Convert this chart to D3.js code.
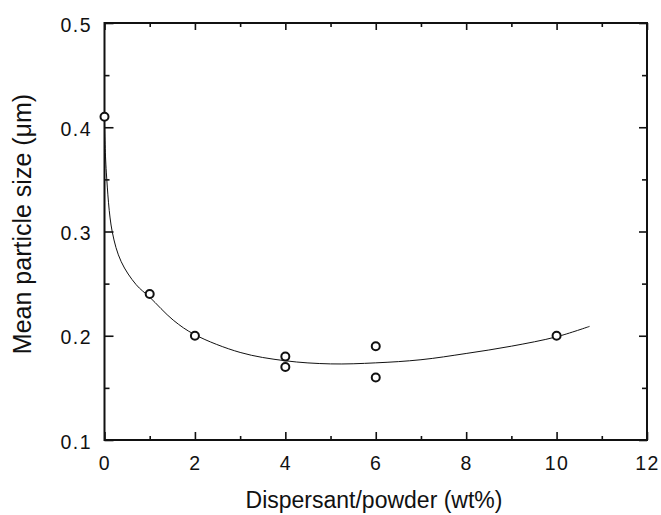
<!DOCTYPE html>
<html>
<head>
<meta charset="utf-8">
<script src="https://cdn.jsdelivr.net/npm/d3@7"></script>
<style>
  body { margin: 0; background: #fff; }
  svg text { font-family: "Liberation Sans", Arial, Helvetica, sans-serif; fill: #111; }
</style>
</head>
<body>
<div id="chart_area"></div>
<script>
// measured points
var sizeX = [0, 1, 2, 4, 4, 6, 6, 10];
var sizeY = [0.41, 0.24, 0.20, 0.18, 0.17, 0.19, 0.16, 0.20];

// fitted curve
var fitX = [0, 0.04, 0.17, 0.37, 0.70, 1.0, 1.52, 2.0, 3.0, 4.0, 5.0, 6.0, 7.0, 8.0, 9.0, 10.0, 10.73];
var fitY = [0.405, 0.357, 0.30, 0.271, 0.249, 0.237, 0.215, 0.201, 0.184, 0.176, 0.173, 0.174, 0.177, 0.183, 0.190, 0.199, 0.209];

var xMajor = [0, 2, 4, 6, 8, 10, 12];
var xMinor = [1, 3, 5, 7, 9, 11];
var yMajor = [0.1, 0.2, 0.3, 0.4, 0.5];
var yMinor = [0.15, 0.25, 0.35, 0.45];

var xTitle = "Dispersant/powder (wt%)";
var yTitle = "Mean particle size (\u03bcm)";

var frame_width = 661, frame_height = 515;
var margin = {top: 23, right: 14, bottom: 75, left: 104.5};
var canvas_width = frame_width - margin.left - margin.right;
var canvas_height = frame_height - margin.top - margin.bottom;

var frame = d3.select("#chart_area").append("svg")
  .attr("width", frame_width)
  .attr("height", frame_height);

var canvas = frame.append("g")
  .attr("transform", "translate(" + margin.left + "," + margin.top + ")");

var xScale = d3.scaleLinear().domain([0, 12]).range([0, canvas_width]);
var yScale = d3.scaleLinear().domain([0.1, 0.5]).range([canvas_height, 0]);

// axes, ticks pointing inward on all four sides
function styleAxis(g, fs) {
  g.select(".domain").remove();
  g.selectAll("line").attr("stroke", "#111").attr("stroke-width", 1.6);
  g.selectAll("text").style("font-size", fs + "px").attr("fill", "#111")
    .style("letter-spacing", "1.5px");
}

canvas.append("g")
  .attr("transform", "translate(0," + canvas_height + ")")
  .call(d3.axisBottom(xScale).tickValues(xMajor).tickSize(-8).tickPadding(16.5).tickFormat(d3.format("d")))
  .call(styleAxis, 19.5);
canvas.append("g")
  .attr("transform", "translate(0," + canvas_height + ")")
  .call(d3.axisBottom(xScale).tickValues(xMinor).tickSize(-4).tickFormat(""))
  .call(styleAxis, 19.5);
canvas.append("g")
  .call(d3.axisTop(xScale).tickValues(xMajor).tickSize(-7).tickFormat(""))
  .call(styleAxis, 19.5);
canvas.append("g")
  .call(d3.axisTop(xScale).tickValues(xMinor).tickSize(-4).tickFormat(""))
  .call(styleAxis, 19.5);

canvas.append("g")
  .call(d3.axisLeft(yScale).tickValues(yMajor).tickSize(-9).tickPadding(12.5).tickFormat(d3.format(".1f")))
  .call(styleAxis, 19.5);
canvas.append("g")
  .call(d3.axisLeft(yScale).tickValues(yMinor).tickSize(-5).tickFormat(""))
  .call(styleAxis, 19.5);
canvas.append("g")
  .attr("transform", "translate(" + canvas_width + ",0)")
  .call(d3.axisRight(yScale).tickValues(yMajor).tickSize(-8).tickFormat(""))
  .call(styleAxis, 19.5);
canvas.append("g")
  .attr("transform", "translate(" + canvas_width + ",0)")
  .call(d3.axisRight(yScale).tickValues(yMinor).tickSize(-5).tickFormat(""))
  .call(styleAxis, 19.5);

canvas.selectAll(".tick text").attr("dy", function () {
  return d3.select(this).attr("dy") === "0.32em" ? "0.42em" : d3.select(this).attr("dy");
});

// frame
canvas.append("rect")
  .attr("width", canvas_width)
  .attr("height", canvas_height)
  .attr("fill", "none")
  .attr("stroke", "#111")
  .attr("stroke-width", 2);

// fitted curve
var fit = fitX.map(function (d, i) { return [d, fitY[i]]; });
var line = d3.line()
  .x(function (d) { return xScale(d[0]); })
  .y(function (d) { return yScale(d[1]); })
  .curve(d3.curveCatmullRom.alpha(0.5));

canvas.append("path")
  .datum(fit)
  .attr("d", line)
  .attr("fill", "none")
  .attr("stroke", "#111")
  .attr("stroke-width", 1);

// data points
var pts = sizeX.map(function (d, i) { return {x: d, y: sizeY[i]}; });
canvas.selectAll(".dot")
  .data(pts)
  .enter().append("circle")
  .attr("class", "dot")
  .attr("cx", function (d) { return xScale(d.x); })
  .attr("cy", function (d) { return yScale(d.y); })
  .attr("r", 4)
  .attr("fill", "#fff")
  .attr("stroke", "#111")
  .attr("stroke-width", 2);

// axis titles
frame.append("text")
  .attr("x", 374)
  .attr("y", 508)
  .attr("text-anchor", "middle")
  .style("font-size", "23px")
  .text(xTitle);

frame.append("text")
  .attr("transform", "translate(31," + 224 + ") rotate(-90)")
  .attr("text-anchor", "middle")
  .style("font-size", "25px")
  .text(yTitle);
</script>
</body>
</html>
